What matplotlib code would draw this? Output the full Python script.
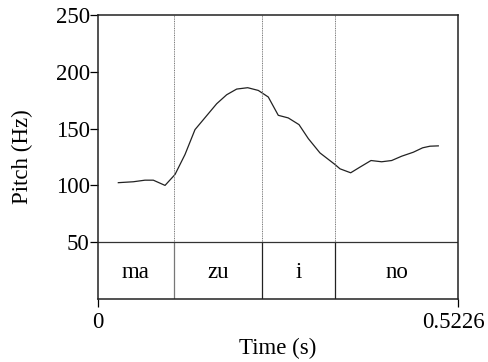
import matplotlib.pyplot as plt
import numpy as np
from matplotlib.transforms import ScaledTranslation

plt.rcParams['font.family'] = ['Liberation Serif', 'DejaVu Serif']

# pitch track (time in s, F0 in Hz)
t = np.array([0.0295, 0.0512, 0.0682, 0.0803, 0.0973, 0.1118, 0.1263, 0.1408,
              0.1723, 0.1868, 0.2013, 0.2173, 0.2327, 0.2472, 0.2617, 0.2762,
              0.2918, 0.3053, 0.3222, 0.3440, 0.3513, 0.3668, 0.3803, 0.3963,
              0.4118, 0.4263, 0.4408, 0.4577, 0.4713, 0.4819, 0.4940])
f0 = np.array([102.4, 103.2, 104.6, 104.6, 100.0, 109.6, 127.2, 149.1,
               171.9, 179.8, 184.8, 186.0, 183.6, 177.8, 161.7, 159.4,
               153.5, 141.2, 128.6, 118.4, 114.6, 111.1, 116.1, 121.9,
               120.8, 121.9, 125.7, 129.2, 133.1, 134.5, 134.8])

# segment tier
tmax = 0.5226
bounds = [0.1103, 0.2380, 0.3440]
segs = ['ma', 'zu', 'i', 'no']
tier_top = 50

fs = 16.5

fig = plt.figure(figsize=(4.89, 3.62), dpi=100)
ax = fig.add_axes([98/489, 63/362, 360/489, 284/362])

ax.plot(t, f0, '-', color='#222222', linewidth=0.9)

bcols = ['#777777', '#222222', '#222222']
for b, c in zip(bounds, bcols):
    ax.plot([b, b], [tier_top, 250], linestyle=(0, (1, 0.8)), color='#777777', linewidth=0.7)
    ax.plot([b, b], [0, tier_top], '-', color=c, linewidth=0.9)
ax.axhline(tier_top, color='#333333', linewidth=0.9)

edges = [0] + bounds + [tmax]
for i, s in enumerate(segs):
    ax.text((edges[i] + edges[i+1]) / 2, 23, s, ha='center', va='center', fontsize=fs)

ax.set_xlim(0, tmax)
ax.set_ylim(0, 250)
ax.set_yticks([50, 100, 150, 200, 250])
ax.set_xticks([0, tmax])
ax.set_xticklabels(['0', '0.5226'])
ax.tick_params(direction='out', length=6, width=0.9, labelsize=fs, pad=0)
ax.tick_params(axis='x', pad=3)
for sp in ax.spines.values():
    sp.set_linewidth(1.1)
    sp.set_color('#222222')

# nudge the right-hand time label so it stays inside the figure
lab = ax.get_xticklabels()[1]
lab.set_transform(lab.get_transform() + ScaledTranslation(-3/72, 0, fig.dpi_scale_trans))

ax.set_ylabel('Pitch (Hz)', fontsize=fs, labelpad=16)
ax.set_xlabel('Time (s)', fontsize=fs, labelpad=4)

plt.savefig('out.png', dpi=100)
